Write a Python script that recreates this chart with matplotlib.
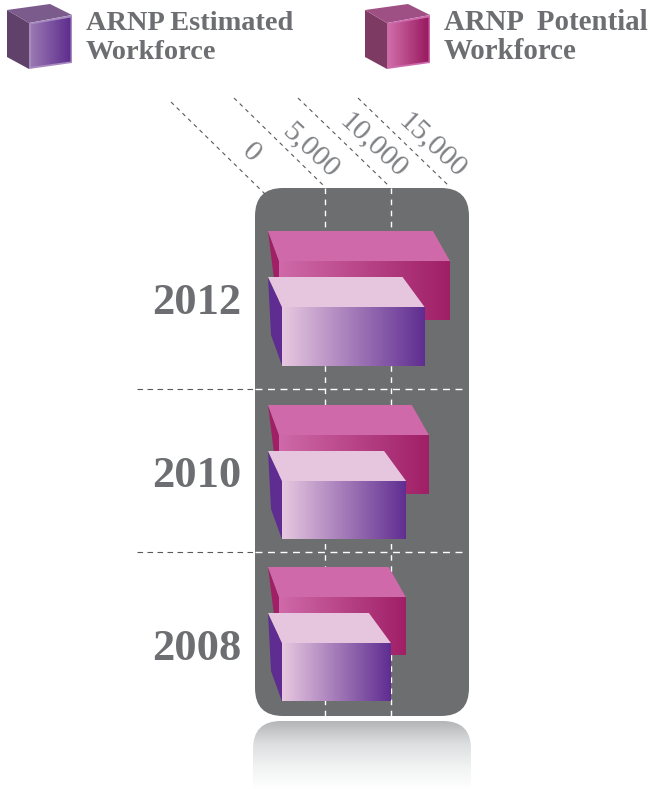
import numpy as np
import matplotlib
matplotlib.use('Agg')
import matplotlib.pyplot as plt
from matplotlib.colors import LinearSegmentedColormap
from matplotlib.patches import Polygon, FancyBboxPatch

years = ['2012', '2010', '2008']
estimated = [10800, 9400, 8250]
potential = [12950, 11350, 9600]
tick_values = [0, 5000, 10000, 15000]
tick_labels = ['0', '5,000', '10,000', '15,000']
legend_lines = [['ARNP Estimated', 'Workforce'], ['ARNP  Potential', 'Workforce']]

# layout, all in picture pixels
W, H = 649, 789
UNITS_PER_PX = 5000 / 66
ZERO_PX = 259
row_tops = [231, 405, 567]
label_rows = [302, 475, 648]
divider_rows = [389, 552]

GREY = '#6d6e70'
TEXT_GREY = '#6d6e71'
SERIF = 'Liberation Serif'


def toX(px):
    return (px - ZERO_PX) * UNITS_PER_PX


def gradient(ax, left, right, top, bottom, colors, clip, vertical=False, z=2):
    cmap = LinearSegmentedColormap.from_list('g', colors)
    ramp = np.linspace(0, 1, 256)
    ramp = ramp.reshape(-1, 1) if vertical else ramp.reshape(1, -1)
    im = ax.imshow(ramp, cmap=cmap, aspect='auto', origin='upper',
                   extent=(toX(left), toX(right), bottom, top), zorder=z)
    clip.set_transform(ax.transData)
    im.set_clip_path(clip)


def poly(ax, points, color, z=2):
    pts = [(toX(x), y) for x, y in points]
    ax.add_patch(Polygon(pts, closed=True, facecolor=color, edgecolor='none', zorder=z))


def drawBar(ax, value, top, left_back, front_left, depth_x, bottom_left_x, bottom_left_y,
            face_colors, top_color, side_color, z):
    front_top = top + 30
    front_bottom = front_top + 58.5
    right_x = toX(front_left) + value
    right = right_x / UNITS_PER_PX + ZERO_PX
    # left side, top and front of the box
    poly(ax, [(left_back, top), (front_left, front_top), (front_left, front_bottom),
              (bottom_left_x, bottom_left_y)], side_color, z)
    poly(ax, [(left_back, top), (right - depth_x, top), (right, front_top), (front_left, front_top)],
         top_color, z + 0.1)
    clip = Polygon([(toX(front_left), front_top), (right_x, front_top),
                    (right_x, front_bottom), (toX(front_left), front_bottom)], closed=True)
    gradient(ax, front_left, right, front_top, front_bottom, face_colors, clip, z=z + 0.2)


def drawCube(ax, dx, face_colors, top_color, side_color, border):
    poly(ax, [(7 + dx, 10), (29 + dx, 23), (29 + dx, 69), (7 + dx, 57)], side_color, 3)
    poly(ax, [(7 + dx, 10), (50 + dx, 4), (72 + dx, 15), (29 + dx, 23)], top_color, 3)
    poly(ax, [(29 + dx, 23), (72 + dx, 15), (72 + dx, 63), (29 + dx, 69)], border, 3)
    clip = Polygon([(toX(30.5 + dx), 24.5), (toX(70.5 + dx), 17.5), (toX(70.5 + dx), 61.5), (toX(30.5 + dx), 67)], closed=True)
    gradient(ax, 30.5 + dx, 70.5 + dx, 17, 67, face_colors, clip, z=3.1)


def main():
    fig = plt.figure(figsize=(W / 100, H / 100), dpi=100)
    ax = fig.add_axes([0, 0, 1, 1])
    ax.set_xlim(toX(0), toX(W))
    ax.set_ylim(H, 0)
    ax.set_autoscale_on(False)
    ax.axis('off')

    # dark panel behind the bars
    r = 28
    ax.add_patch(FancyBboxPatch((toX(255), 188), 214 * UNITS_PER_PX, 528,
                                boxstyle='round,pad=0,rounding_size={}'.format(r * UNITS_PER_PX),
                                mutation_aspect=1 / UNITS_PER_PX, facecolor=GREY, edgecolor='none', zorder=1))

    # reflection under the panel
    refl = FancyBboxPatch((toX(253), 721), 218 * UNITS_PER_PX, 120,
                          boxstyle='round,pad=0,rounding_size={}'.format(r * UNITS_PER_PX),
                          mutation_aspect=1 / UNITS_PER_PX, facecolor='none', edgecolor='none')
    ax.add_patch(refl)
    gradient(ax, 253, 471, 721, 789, ['#b4b5b7', '#dddedf', '#f1f2f2', '#ffffff'], refl, vertical=True, z=1)

    # value axis: slanted leaders above the panel, white dashes on it
    starts = [(171, 102), (234, 98), (298, 98), (358, 98)]
    ends = [(265, 194), (324, 186), (389, 186), (450, 187)]
    label_pos = [(251, 153), (311, 150), (373, 145), (432, 145)]
    for i, v in enumerate(tick_values):
        ax.plot([toX(starts[i][0]), toX(ends[i][0])], [starts[i][1], ends[i][1]],
                color='#58595b', lw=0.8, dashes=(3.6, 3.6), zorder=1.5)
        ax.text(toX(label_pos[i][0]), label_pos[i][1], tick_labels[i], rotation=-43, rotation_mode='anchor',
                ha='center', va='center', family=SERIF, fontsize=21.5, color='#808285', zorder=4)
        if 0 < v < 15000:
            ax.plot([v, v], [188, 716], color='white', lw=1, dashes=(4, 4), zorder=1.5)

    # year dividers
    for y in divider_rows:
        ax.plot([toX(137), toX(255)], [y, y], color='#58595b', lw=0.8, dashes=(5, 4), zorder=1.5)
        ax.plot([toX(255), toX(467)], [y, y], color='white', lw=1, dashes=(5, 4), zorder=1.5)

    # potential sits behind, estimated in front and lower
    for i, year in enumerate(years):
        top = row_tops[i]
        drawBar(ax, potential[i], top, 268, 279, 17, 279, top + 88,
                ['#cf6aa9', '#a01f66'], '#cf69a9', '#a01f66', 2 + i)
        drawBar(ax, estimated[i], top + 46, 268, 282, 22, 271, top + 104,
                ['#e8c8e0', '#5f2d91'], '#e6c6df', '#5f2d91', 2.5 + i)
        ax.text(toX(197), label_rows[i] + 1, year, ha='center', va='center', family=SERIF,
                fontweight='bold', fontsize=32, color=TEXT_GREY, zorder=4)

    # legend
    drawCube(ax, 0, ['#9a78b2', '#5b2a8c'], '#7a5b8c', '#5f4169', '#a78bbf')
    drawCube(ax, 358, ['#cf6ca7', '#98185f'], '#9e5084', '#7d3a62', '#cc6aaa')
    for x, lines, size in zip([86, 444], legend_lines, [20.4, 20.8]):
        for y, line in zip([30, 59], lines):
            ax.text(toX(x), y, line, ha='left', va='baseline', family=SERIF, fontweight='bold',
                    fontsize=size, color=TEXT_GREY, zorder=4)

    fig.savefig('out.png', dpi=100, facecolor='white')


main()
